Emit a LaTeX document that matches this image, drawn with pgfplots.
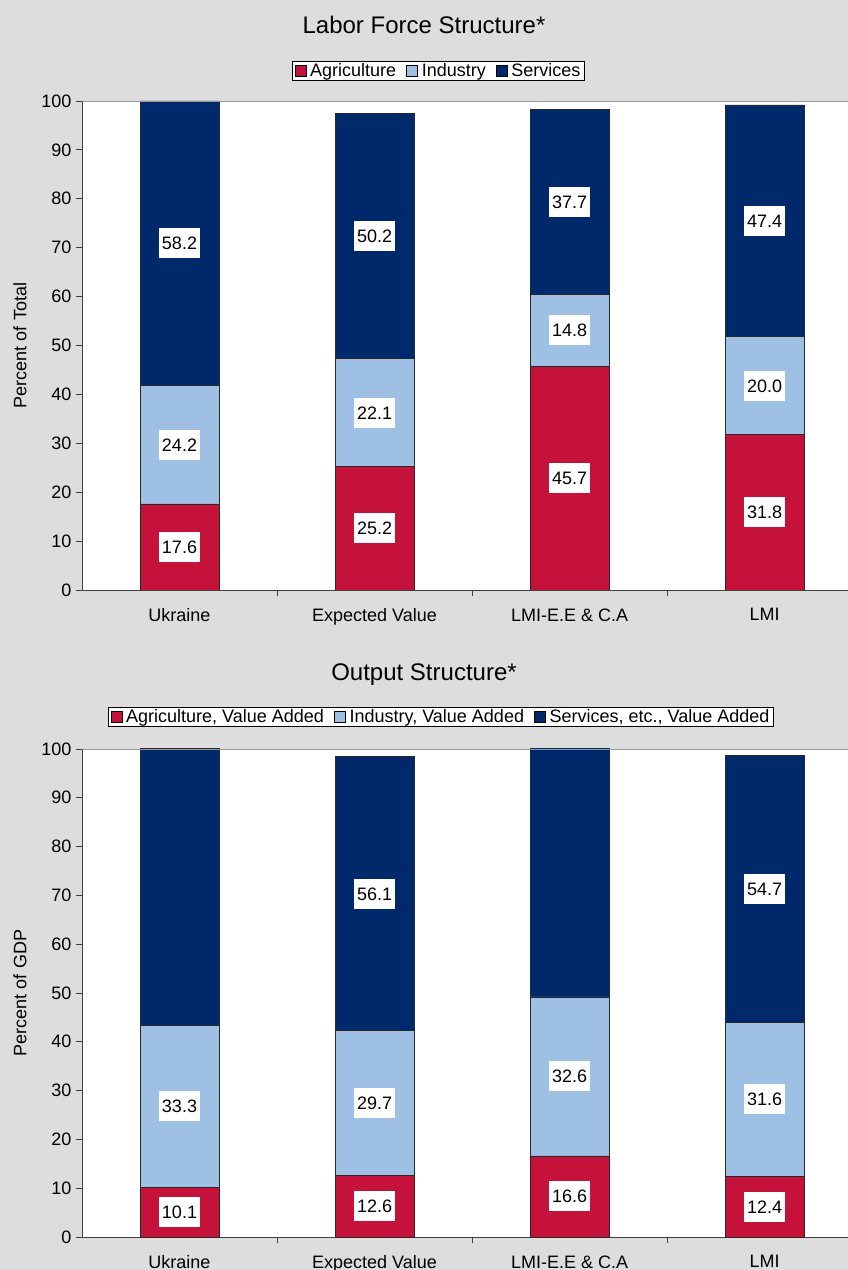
\documentclass[border=0pt]{standalone}
\usepackage{fontspec}
\setmainfont{Liberation Sans}
\usepackage{pgfplots}
\usepackage{pgfplotstable}
\pgfplotsset{compat=1.18}

\definecolor{agri}{RGB}{196,18,58}
\definecolor{indu}{RGB}{157,192,228}
\definecolor{serv}{RGB}{0,41,107}
\definecolor{panel}{RGB}{221,221,221}
\definecolor{edge}{RGB}{40,40,40}

% Labor force shares (percent of total)
\pgfplotstableread{
x agr ind ser
0 17.6 24.2 58.2
1 25.2 22.1 50.2
2 45.7 14.8 37.7
3 31.8 20.0 47.4
}\labor

% Output shares (percent of GDP)
\pgfplotstableread{
x agr ind ser
0 10.1 33.3 56.7
1 12.6 29.7 56.1
2 16.6 32.6 52.8
3 12.4 31.6 54.7
}\output

\newcommand\labelfont{\fontsize{18}{21}\selectfont}

\pgfplotsset{
  structure/.style={
    scale only axis,
    width=766pt,
    ybar stacked,
    bar width=79pt,
    xmin=-0.5, xmax=3.428,
    ymin=0, ymax=100,
    enlarge x limits=false,
    axis background/.style={fill=white},
    axis x line*=bottom,
    axis y line*=left,
    axis line style={draw=black!75, line width=0.8pt},
    tick align=outside,
    ytick={0,10,...,100},
    xtick={0,1,2,3},
    xticklabels={Ukraine, Expected Value, LMI-E.E \& C.A, LMI},
    major x tick style={draw=none},
    minor xtick={0.5,1.5,2.5},
    minor tick length=6pt,
    major tick length=6pt,
    tick style={draw=black!75, line width=0.8pt},
    x tick label style={yshift=-9pt},
    y tick label style={xshift=-1pt},
    tick label style={font=\labelfont},
    /pgf/number format/assume math mode=true,
    every axis y label/.style={at={(axis description cs:-0.0810,0.5)},
      rotate=90, anchor=center, font=\labelfont},
    legend columns=-1,
    legend style={draw=black, fill=white, line width=0.6pt,
      font=\labelfont, anchor=center,
      inner xsep=2pt, inner ysep=0.5pt,
      nodes={inner xsep=2pt, inner ysep=2pt},
      /tikz/every odd column/.append style={column sep=2pt},
      /tikz/every even column/.append style={column sep=8pt}},
    legend image code/.code={\draw[##1,draw=black,line width=0.6pt]
      (0pt,-5.5pt) rectangle (11pt,5.5pt);},
    after end axis/.code={\draw[black!40, line width=0.8pt]
      (rel axis cs:0,1) -- (rel axis cs:1,1);},
  },
  % white value box in the middle of each segment of the stack
  seg/.style={
    draw=edge, line width=0.8pt,
    point meta=explicit,
    nodes near coords={\pgfmathprintnumber[fixed,fixed zerofill,precision=1]{\pgfplotspointmeta}},
    every node near coord/.style={
      anchor=center, fill=white, text=black, font=\labelfont,
      inner xsep=3pt, inner ysep=8.5pt, text height=13pt, text depth=0pt},
  },
}

\begin{document}
\begin{tikzpicture}[x=1pt,y=1pt]
\useasboundingbox (0pt,0pt) rectangle (848pt,1270pt);
\fill[panel] (0pt,0pt) rectangle (848pt,1270pt);

\node[font=\fontsize{24}{28}\selectfont] at (424pt,1245pt) {Labor Force Structure*};
\node[font=\fontsize{24}{28}\selectfont] at (424pt,595pt) {Output Structure*};

\begin{axis}[structure,
  at={(82pt,680pt)}, anchor=south west, height=489pt,
  ylabel={Percent of Total},
  legend style={at={(axis description cs:0.4654,1.0613)}}]
\addplot[fill=agri, seg] table[x=x,y=agr,meta=agr]{\labor};
\addplot[fill=indu, seg] table[x=x,y=ind,meta=ind]{\labor};
\addplot[fill=serv, seg] table[x=x,y=ser,meta=ser]{\labor};
\legend{Agriculture, Industry, Services}
\end{axis}

\begin{axis}[structure,
  at={(82pt,33pt)}, anchor=south west, height=488pt,
  ylabel={Percent of GDP},
  legend style={at={(axis description cs:0.4687,1.0656)}}]
\addplot[fill=agri, seg] table[x=x,y=agr,meta=agr]{\output};
\addplot[fill=indu, seg] table[x=x,y=ind,meta=ind]{\output};
\addplot[fill=serv, seg] table[x=x,y=ser,meta=ser]{\output};
\legend{{Agriculture, Value Added}, {Industry, Value Added}, {Services, etc., Value Added}}
\end{axis}
\end{tikzpicture}
\end{document}
